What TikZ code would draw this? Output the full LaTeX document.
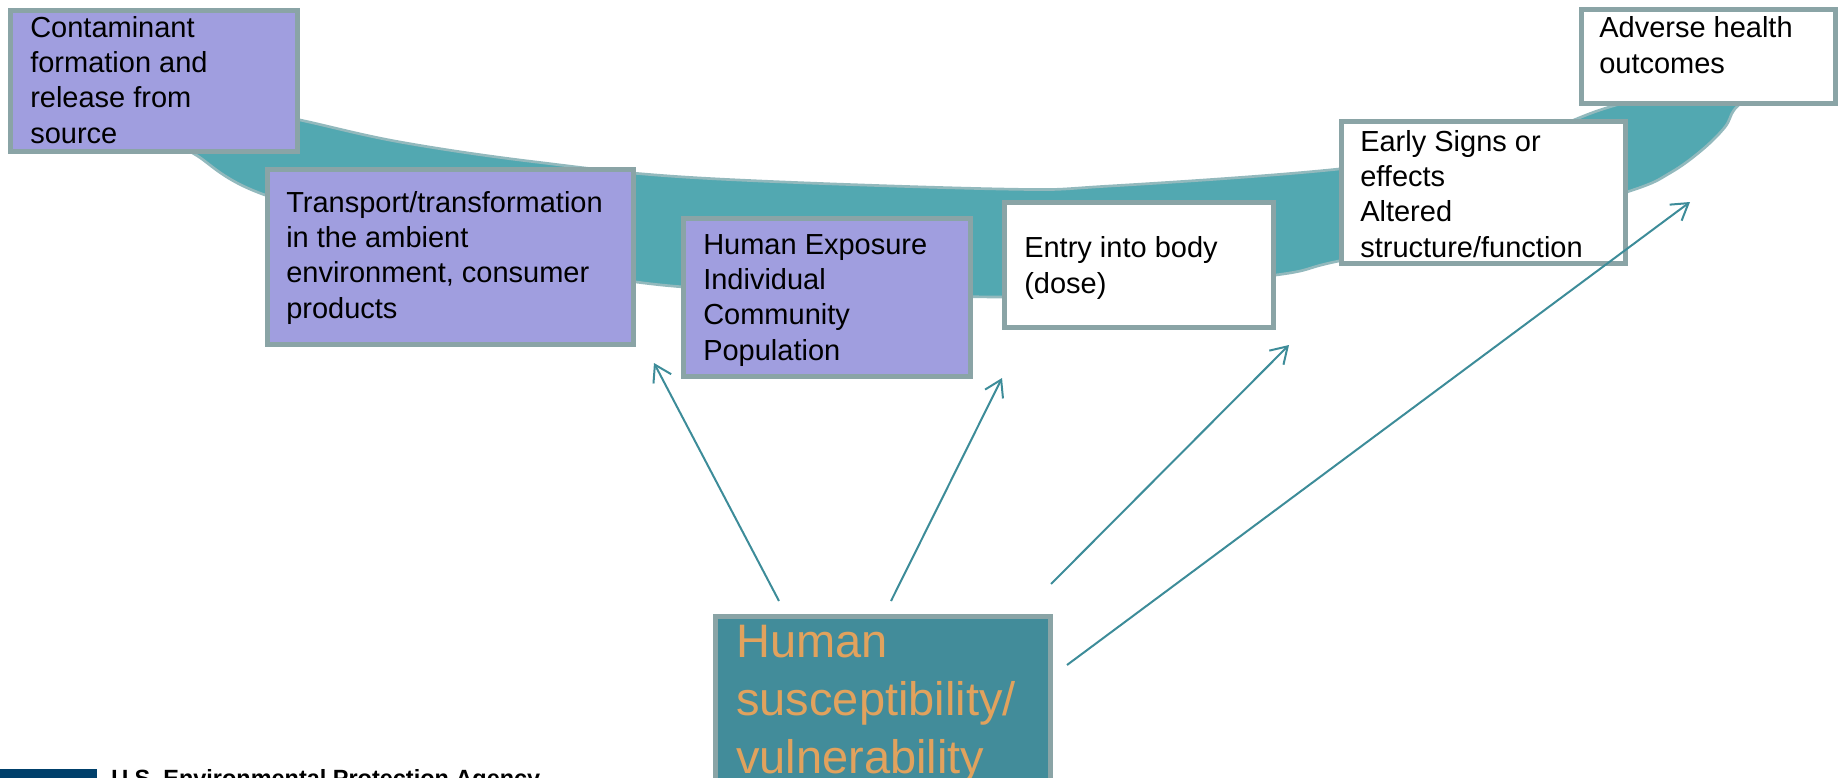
\documentclass[tikz,border=0pt]{standalone}
\usepackage{fontspec}
\setmainfont{Liberation Sans}
\usetikzlibrary{arrows.meta,fit}
\definecolor{lav}{HTML}{A09EDF}
\definecolor{bord}{HTML}{8AA4A6}
\definecolor{bandc}{HTML}{52A8B1}
\definecolor{bandedge}{HTML}{93B9BD}
\definecolor{hum}{HTML}{428C9A}
\definecolor{arr}{HTML}{3D8C99}
\definecolor{orng}{HTML}{E1A25D}
\definecolor{epa}{HTML}{00406B}
\begin{document}
\begin{tikzpicture}[x=0.75pt,y=-0.75pt,
  pbox/.style={draw=bord, line width=4pt, inner sep=0pt, rectangle},
  lavbox/.style={pbox, fill=lav},
  whbox/.style={pbox, fill=white},
  humbox/.style={pbox, fill=hum},
  txt/.style={anchor=base west, inner sep=0pt, align=left, font=\fontsize{21.75pt}{26.4pt}\selectfont},
  humtxt/.style={anchor=base west, inner sep=0pt, align=left, text=orng, font=\fontsize{35.25pt}{43.5pt}\selectfont},
  epatxt/.style={anchor=base west, inner sep=0pt, font=\fontsize{17.6pt}{20pt}\selectfont\bfseries},
  arrowline/.style={draw=arr, line width=1.5pt, -{Straight Barb[length=12pt,width=15pt]}}]
\useasboundingbox (0,0) rectangle (1839,778);
\clip (0,0) rectangle (1839,778);
% band
\fill[bandc, draw=bandedge, line width=2pt]
  plot[smooth, tension=0.6] coordinates {(180,140) (230,106) (300,120) (400,142) (536,162) (700,178) (1000,189) (1110,186) (1339,169) (1500,145) (1600,110) (1650,96)}
  -- plot[smooth, tension=0.6] coordinates {(1750,95) (1734,110) (1725,127) (1702,150) (1670,173) (1630,191) (1500,230) (1339,261) (1276,275) (1100,293) (1000,297) (800,292) (636,282) (450,245) (265,195) (196,155) (180,145)}
  -- cycle;
% boxes
\node[lavbox, fit={(10.7,10.7) (297.3,151.3)}] (b1) {};
\node[lavbox, fit={(267.7,169.7) (633.3,344.3)}] (b2) {};
\node[lavbox, fit={(683.7,218.7) (970.3,376.3)}] (b3) {};
\node[whbox, fit={(1004.7,202.7) (1273.3,327.3)}] (b4) {};
\node[whbox, fit={(1341.7,121.7) (1625.3,263.3)}] (b5) {};
\node[whbox, fit={(1581.7,9.7) (1835.3,103.3)}] (b6) {};
\node[humbox, fit={(715.7,616.7) (1050.3,830)}] (b7) {};
% texts (anchored at the baseline of the last line)
\node[txt] (t1) at (30,143) {Contaminant\\formation and\\release from\\source};
\node[txt] (t2) at (286,318) {Transport/transformation\\in the ambient\\environment, consumer\\products};
\node[txt] (t3) at (703,360) {Human Exposure\\Individual\\Community\\Population};
\node[txt] (t4) at (1024,293) {Entry into body\\(dose)};
\node[txt] (t5) at (1360,257) {Early Signs or\\effects\\Altered\\structure/function};
\node[txt] (t6) at (1599,73) {Adverse health\\outcomes};
\node[humtxt] (t7) at (736,773) {Human\\susceptibility/\\vulnerability};
% footer
\fill[epa] (0,769) rectangle (97,790);
\node[epatxt] (t8) at (111,786) {U.S. Environmental Protection Agency};
% arrows
\coordinate (a1s) at (779,601); \coordinate (a1e) at (654,363);
\coordinate (a2s) at (891,601); \coordinate (a2e) at (1002,378);
\coordinate (a3s) at (1051,584); \coordinate (a3e) at (1289,345);
\coordinate (a4s) at (1067,665); \coordinate (a4e) at (1690,202);
\draw[arrowline] (a1s) -- (a1e);
\draw[arrowline] (a2s) -- (a2e);
\draw[arrowline] (a3s) -- (a3e);
\draw[arrowline] (a4s) -- (a4e);
\end{tikzpicture}
\end{document}
